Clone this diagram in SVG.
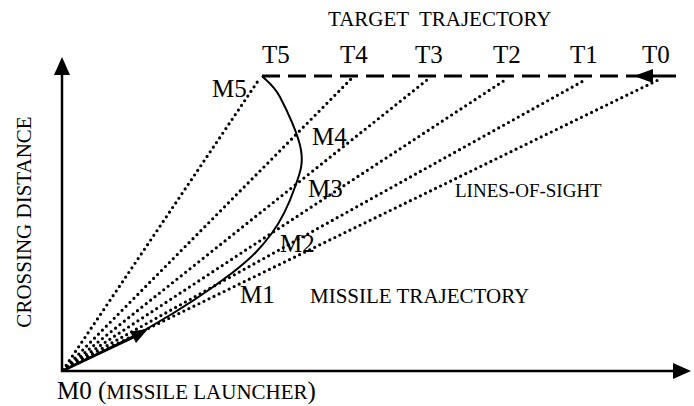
<svg xmlns="http://www.w3.org/2000/svg" width="694" height="406" viewBox="0 0 694 406">
<style>
text{font-family:"Liberation Serif","Times New Roman",serif;fill:#000}
.lbl{font-size:25px}
.cap{font-size:21px}
.los{fill:none;stroke:#000;stroke-width:3.2;stroke-linecap:round;stroke-dasharray:0 5.6}
.axis{fill:none;stroke:#000;stroke-width:2.5}
</style>
<rect width="694" height="406" fill="#fff"/>
<g id="connectors">
<g id="lines-of-sight">
<line class="los" x1="63" y1="370" x2="260" y2="78"/>
<line class="los" x1="63" y1="370" x2="352" y2="78"/>
<line class="los" x1="63" y1="370" x2="427" y2="80"/>
<line class="los" x1="63" y1="370" x2="505" y2="80"/>
<line class="los" x1="63" y1="370" x2="585" y2="80"/>
<line class="los" x1="63" y1="370" x2="658" y2="80"/>
</g>
<g id="axes">
<line class="axis" x1="62" y1="372" x2="62" y2="74"/>
<polygon points="62,57 54,75 70,75"/>
<line class="axis" x1="61" y1="371" x2="674" y2="371"/>
<polygon points="691,371 673,363 673,379"/>
</g>
<g id="target-trajectory">
<line x1="262" y1="76" x2="640" y2="76" stroke="#000" stroke-width="3" stroke-dasharray="18 8"/>
<line x1="650" y1="76" x2="676" y2="76" stroke="#000" stroke-width="3"/>
<polygon points="634,76 653,69 653,83"/>
</g>
<g id="missile-trajectory">
<path d="M62,371 C76.7,363.7 121.7,343.3 150,327 C178.3,310.7 211.7,288.7 232,273 C252.3,257.3 261.5,247.3 272,233 C282.5,218.7 290.2,200.8 295,187 C299.8,173.2 303.5,165 301,150 C298.5,135 286.5,109.3 280,97 C273.5,84.7 265,79.5 262,76" fill="none" stroke="#000" stroke-width="2"/>
<line x1="62" y1="371" x2="140" y2="334" stroke="#000" stroke-width="3"/>
<polygon points="148,329 130,331.5 136,343"/>
</g>
</g>
<g id="labels">
<text class="cap" x="328" y="26" xml:space="preserve">TARGET  TRAJECTORY</text>
<g id="T5"><text class="lbl" x="262" y="63">T5</text></g>
<g id="T4"><text class="lbl" x="340" y="63">T4</text></g>
<g id="T3"><text class="lbl" x="415" y="63">T3</text></g>
<g id="T2"><text class="lbl" x="493" y="63">T2</text></g>
<g id="T1"><text class="lbl" x="570" y="63">T1</text></g>
<g id="T0"><text class="lbl" x="642" y="63">T0</text></g>
<g id="M5"><text class="lbl" x="212" y="97">M5</text></g>
<g id="M4"><text class="lbl" x="312" y="145">M4</text></g>
<g id="M3"><text class="lbl" x="308" y="197">M3</text></g>
<g id="M2"><text class="lbl" x="280" y="252">M2</text></g>
<g id="M1"><text class="lbl" x="240" y="303">M1</text></g>
<text class="cap" x="310" y="303">MISSILE TRAJECTORY</text>
<text x="455" y="197" font-size="19">LINES-OF-SIGHT</text>
<text class="cap" transform="translate(31,222) rotate(-90)" text-anchor="middle">CROSSING DISTANCE</text>
<g id="M0"><text x="57" y="399" font-size="25">M0 (<tspan font-size="21">MISSILE LAUNCHER</tspan>)</text></g>
</g>
</svg>
